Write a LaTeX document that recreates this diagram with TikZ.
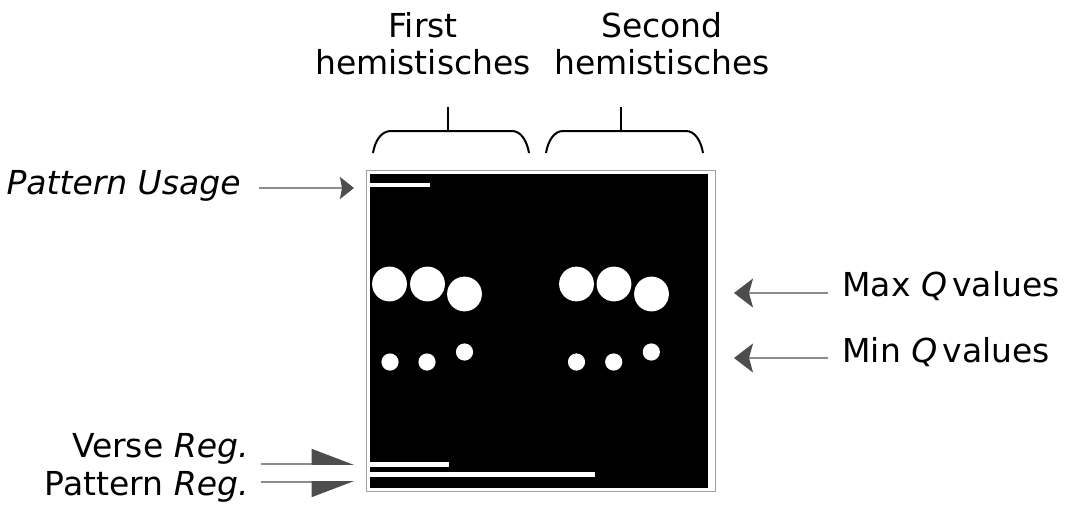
\documentclass[tikz,border=0pt]{standalone}
\usepackage{fontspec}
\setmainfont{DejaVu Sans}
\usetikzlibrary{arrows.meta}
\definecolor{headgray}{HTML}{4D4D4D}
\definecolor{shaftgray}{HTML}{8C8C8C}
\definecolor{framegray}{HTML}{A0A0A0}
\begin{document}
\begin{tikzpicture}[x=0.5pt,y=-0.5pt,
  label/.style={inner sep=0pt,font=\fontsize{16.5}{18.5}\selectfont},
  pointer/.style={draw=shaftgray,line width=0.9pt},
  usagetip/.style={-{Stealth[length=7pt,width=11pt,inset=1pt,color=headgray]}},
  qtip/.style={-{Stealth[length=9.5pt,width=14.5pt,inset=2pt,color=headgray]}},
  regtip/.style={-{Triangle[harpoon,length=20pt,width=15pt,color=headgray]}},
  regtipdown/.style={-{Triangle[harpoon,swap,length=20pt,width=15pt,color=headgray]}},
  bracket/.style={draw=black,line width=1pt},
  bar/.style={fill=white},
  dot/.style={fill=white}]
\useasboundingbox (0,0) rectangle (1072,514);

% heading texts
\node[label,anchor=base] (first) at (423,74)
  {\begin{tabular}[b]{@{}c@{}}First\\hemistisches\end{tabular}};
\node[label,anchor=base] (second) at (662,74)
  {\begin{tabular}[b]{@{}c@{}}Second\\hemistisches\end{tabular}};

% brackets over the two halves
\draw[bracket] (373,153) .. controls (375,141) and (381,131) .. (391,131)
  -- (512,131) .. controls (521,131) and (527,141) .. (529,153);
\draw[bracket] (448,131) -- (448,107);
\draw[bracket] (546,153) .. controls (548,141) and (554,131) .. (563,131)
  -- (686,131) .. controls (695,131) and (701,141) .. (703,153);
\draw[bracket] (621,131) -- (621,107);

% map frame and black field
\node[draw=framegray,line width=0.6pt,fill=white,inner sep=0pt,
  minimum width=174.5pt,minimum height=160.5pt,anchor=north west] (frame) at (366,170) {};
\fill[black] (370,174) rectangle (708,488);

% bars
\fill[bar] (370,183) rectangle (430,187);
\fill[bar] (370,462) rectangle (449,467);
\fill[bar] (370,472) rectangle (595,477);

% large circles
\foreach \cx/\cy in {389.5/284, 427.5/284, 464.5/294, 576.5/284, 614/284, 651.5/294}
  \fill[dot] (\cx,\cy) circle (8.7pt);
% small circles
\foreach \cx/\cy in {390/362, 427/362, 464.5/352, 576.5/362, 613.7/362, 651.3/352}
  \fill[dot] (\cx,\cy) circle (4.3pt);

% side labels
\node[label,anchor=base east] (usage) at (241,194) {\itshape Pattern Usage};
\node[label,anchor=base east] (verse) at (249,457) {Verse \textit{Reg.}};
\node[label,anchor=base east] (preg) at (249,495) {Pattern \textit{Reg.}};
\node[label,anchor=base west] (maxq) at (842,296) {Max \textit{Q}\kern0.16em values};
\node[label,anchor=base west] (minq) at (842,362) {Min \textit{Q}\kern0.16em values};

% arrow ends
\coordinate (usageS) at (259,188);
\coordinate (usageE) at (354,188);
\coordinate (verseS) at (261,464);
\coordinate (verseE) at (354,464);
\coordinate (pregS) at (261,482);
\coordinate (pregE) at (354,482);
\coordinate (maxS) at (828,293);
\coordinate (maxE) at (734,293);
\coordinate (minS) at (828,358);
\coordinate (minE) at (734,358);

\draw[pointer,usagetip] (usageS) -- (usageE);
\draw[pointer,regtip] (verseS) -- (verseE);
\draw[pointer,regtipdown] (pregS) -- (pregE);
\draw[pointer,qtip] (maxS) -- (maxE);
\draw[pointer,qtip] (minS) -- (minE);
\end{tikzpicture}
\end{document}
